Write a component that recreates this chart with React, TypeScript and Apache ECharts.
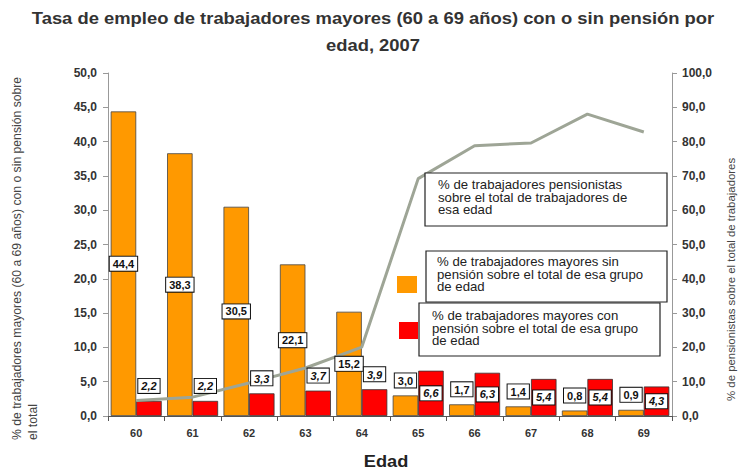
import React, { useEffect, useRef } from "react";
import * as echarts from "echarts";

const categories = ["60", "61", "62", "63", "64", "65", "66", "67", "68", "69"];
const sinPension = [44.4, 38.3, 30.5, 22.1, 15.2, 3.0, 1.7, 1.4, 0.8, 0.9];
const conPension = [2.2, 2.2, 3.3, 3.7, 3.9, 6.6, 6.3, 5.4, 5.4, 4.3];
const pensionistas = [4.5, 5.5, 9.6, 14.0, 20.1, 69.2, 78.8, 79.6, 88.0, 82.8];

const titleLine1 = "Tasa de empleo de trabajadores mayores (60 a 69 años) con o sin pensión por";
const titleLine2 = "edad, 2007";
const xName = "Edad";
const leftName1 = "% de trabajadores mayores (60 a 69 años) con o sin pensión sobre";
const leftName2 = "el total";
const rightName = "% de pensionistas sobre el total de trabajadores";
const legend1 = "% de trabajadores pensionistas\nsobre el total de trabajadores de\nesa edad";
const legend2 = "% de trabajadores mayores sin\npensión sobre el total de esa grupo\nde edad";
const legend3 = "% de trabajadores mayores con\npensión sobre el total de esa grupo\nde edad";

const FONT = "'Liberation Sans', Arial, sans-serif";
const fmt = (v: number) => v.toFixed(1).replace(".", ",");

export default function App() {
  const ref = useRef<HTMLDivElement>(null);
  useEffect(() => {
    document.body.style.margin = "0";
    const chart = echarts.init(ref.current!, null, { renderer: "svg" });
    const baseLabel = {
      show: true,
      backgroundColor: "#fff",
      borderColor: "#111",
      borderWidth: 1,
      padding: [2, 3, 1, 3],
      fontFamily: FONT,
      fontWeight: "bold",
      fontSize: 11,
      color: "#111",
      formatter: (p: any) => fmt(p.value),
    };
    const axisLabelStyle = { fontFamily: FONT, fontWeight: "bold", fontSize: 11, color: "#333" };
    const legendText = (text: string, x: number, y: number, z: number) => ({
      type: "text",
      x,
      y,
      z,
      scaleX: 1.1,
      style: { text, fontFamily: FONT, fontSize: 12, lineHeight: 12.5, fill: "#222", verticalAlign: "top" },
    });
    const option: any = {
      animation: false,
      backgroundColor: "#fff",
      grid: { left: 108, right: 70, top: 73, bottom: 54 },
      xAxis: [
        {
          type: "category",
          data: categories,
          axisLine: { lineStyle: { color: "#555" } },
          axisTick: { show: true, length: 5, lineStyle: { color: "#555" } },
          axisLabel: { ...axisLabelStyle, margin: 11 },
        },
        { type: "category", data: categories, show: false },
      ],
      yAxis: [
        {
          type: "value",
          min: 0,
          max: 50,
          interval: 5,
          splitLine: { show: false },
          axisLine: { show: true, lineStyle: { color: "#999" } },
          axisTick: { show: true, length: 5, lineStyle: { color: "#999" } },
          axisLabel: { ...axisLabelStyle, fontSize: 12, margin: 11, formatter: (v: number) => fmt(v) },
        },
        {
          type: "value",
          min: 0,
          max: 100,
          interval: 10,
          position: "right",
          splitLine: { show: false },
          axisLine: { show: true, lineStyle: { color: "#999" } },
          axisTick: { show: true, length: 5, lineStyle: { color: "#999" } },
          axisLabel: { ...axisLabelStyle, fontSize: 12, margin: 10, formatter: (v: number) => fmt(v) },
        },
      ],
      series: [
        {
          type: "bar",
          name: "sin pensión",
          data: sinPension,
          barWidth: 25.5,
          barGap: "0%",
          z: 2,
          itemStyle: { color: "#FF9900", borderColor: "#444", borderWidth: 0.8 },
        },
        {
          type: "bar",
          name: "con pensión",
          data: conPension,
          barWidth: 25.5,
          barGap: "0%",
          z: 2,
          itemStyle: { color: "#FF0000", borderColor: "#333", borderWidth: 0.8 },
        },
        {
          type: "line",
          name: "pensionistas",
          data: pensionistas,
          yAxisIndex: 1,
          symbol: "none",
          z: 3,
          lineStyle: { color: "#9ea596", width: 3 },
        },
        {
          type: "bar",
          name: "sin pensión etiquetas",
          xAxisIndex: 1,
          data: sinPension.map((v) => ({
            value: v,
            label: v >= 10 ? { position: "inside" } : { position: "top", distance: 8 },
          })),
          barWidth: 25.5,
          barGap: "0%",
          z: 5,
          itemStyle: { color: "rgba(0,0,0,0)" },
          label: { ...baseLabel },
          silent: true,
        },
        {
          type: "bar",
          name: "con pensión etiquetas",
          xAxisIndex: 1,
          data: conPension.map((v) => ({
            value: v,
            label: v >= 4.2 ? { position: "inside" } : { position: "top", distance: 8 },
          })),
          barWidth: 25.5,
          barGap: "0%",
          z: 5,
          itemStyle: { color: "rgba(0,0,0,0)" },
          label: { ...baseLabel, fontStyle: "italic" },
          silent: true,
        },
      ],
      graphic: [
        {
          type: "text",
          x: 373,
          y: 18,
          scaleX: 1.15,
          style: { text: titleLine1, fontFamily: FONT, fontSize: 16, fontWeight: "bold", fill: "#333", align: "center", verticalAlign: "middle" },
        },
        {
          type: "text",
          x: 373,
          y: 45,
          scaleX: 1.15,
          style: { text: titleLine2, fontFamily: FONT, fontSize: 16, fontWeight: "bold", fill: "#333", align: "center", verticalAlign: "middle" },
        },
        {
          type: "text",
          x: 386,
          y: 461,
          scaleX: 1.14,
          style: { text: xName, fontFamily: FONT, fontSize: 16, fontWeight: "bold", fill: "#222", align: "center", verticalAlign: "middle" },
        },
        {
          type: "text",
          x: 17,
          y: 440,
          rotation: Math.PI / 2,
          style: { text: leftName1, fontFamily: FONT, fontSize: 12.2, fill: "#444", align: "left", verticalAlign: "middle" },
        },
        {
          type: "text",
          x: 33,
          y: 440,
          rotation: Math.PI / 2,
          style: { text: leftName2, fontFamily: FONT, fontSize: 12.2, fill: "#444", align: "left", verticalAlign: "middle" },
        },
        {
          type: "text",
          x: 731,
          y: 401,
          rotation: Math.PI / 2,
          style: { text: rightName, fontFamily: FONT, fontSize: 11.4, fill: "#444", align: "left", verticalAlign: "middle" },
        },
        {
          type: "rect",
          shape: { x: 425, y: 173, width: 242, height: 53 },
          style: { fill: "#fff", stroke: "#222", lineWidth: 1.2 },
          z: 10,
        },
        legendText(legend1, 438, 179, 11),
        {
          type: "rect",
          shape: { x: 426, y: 251, width: 241, height: 51 },
          style: { fill: "#fff", stroke: "#222", lineWidth: 1.2 },
          z: 10,
        },
        legendText(legend2, 437, 256, 11),
        {
          type: "rect",
          shape: { x: 419, y: 303, width: 241, height: 53 },
          style: { fill: "#fff", stroke: "#222", lineWidth: 1.2 },
          z: 12,
        },
        legendText(legend3, 432, 310, 13),
        {
          type: "rect",
          shape: { x: 397, y: 276, width: 20, height: 17 },
          style: { fill: "#FF9900" },
          z: 10,
        },
        {
          type: "rect",
          shape: { x: 399, y: 322, width: 19, height: 17 },
          style: { fill: "#FF0000" },
          z: 10,
        },
      ],
    };
    chart.setOption(option);
    return () => chart.dispose();
  }, []);
  return <div ref={ref} style={{ width: 742, height: 470 }} />;
}
